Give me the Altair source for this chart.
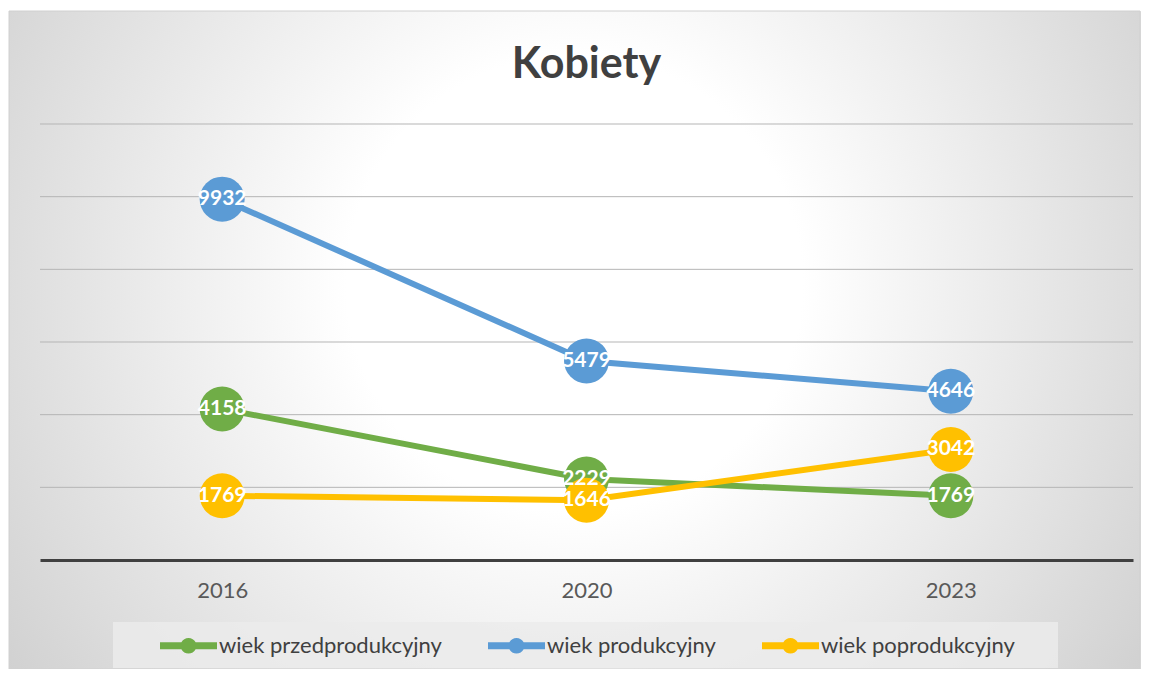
import altair as alt
import pandas as pd

years = ["2016", "2020", "2023"]
series_names = ["wiek przedprodukcyjny", "wiek produkcyjny", "wiek poprodukcyjny"]
przed = [4158, 2229, 1769]
prod = [9932, 5479, 4646]
popr = [1769, 1646, 3042]
colors = ["#70AD47", "#5B9BD5", "#FFC000"]
grid_values = [2000, 4000, 6000, 8000, 10000, 12000]

rows = []
for name, vals in zip(series_names, [przed, prod, popr]):
    for y, v in zip(years, vals):
        rows.append({"year": y, "series": name, "value": v})
df = pd.DataFrame(rows)
gdf = pd.DataFrame({"g": grid_values})

FONT = "Lato"
# the view is the whole chart frame; the plotting region is set by scale ranges
W, H = 1131, 658
PX0, PX1 = 31, 1124      # plotting region left/right
PY0, PY1 = 549, 113      # plotting region bottom/top

scale = alt.Scale(domain=series_names, range=colors)
xscale = alt.Scale(type="point", padding=0.5, range=[PX0, PX1])
xenc = alt.X("year:O", scale=xscale,
             axis=alt.Axis(title=None, labelAngle=0, labelFontSize=22, labelColor="#595959",
                           labelFont=FONT, labelPadding=20, ticks=False, grid=False,
                           domainColor="#404040", domainWidth=3, zindex=1,
                           offset=PY0 - H))
yscale = alt.Scale(domain=[0, 12000], nice=False, range=[PY0, PY1])
yenc = alt.Y("value:Q", scale=yscale, axis=None)

one = alt.Data(values=[{"k": 1}])

bg = alt.Chart(one).mark_rect(
    fill=alt.RadialGradient(
        gradient="radial", x1=0.5, y1=0.45, r1=0.0, x2=0.5, y2=0.45, r2=0.72,
        stops=[alt.GradientStop(color="#ffffff", offset=0.0),
               alt.GradientStop(color="#ffffff", offset=0.28),
               alt.GradientStop(color="#c4c4c4", offset=1.0)]),
    stroke="#d0d0d0", strokeWidth=1
).encode(x=alt.value(0), x2=alt.value(W), y=alt.value(0), y2=alt.value(H))

legbox = alt.Chart(one).mark_rect(fill="#ebebeb", opacity=0.85).encode(
    x=alt.value(104), x2=alt.value(1049), y=alt.value(611), y2=alt.value(657))

grid = alt.Chart(gdf).mark_rule(color="#b5b5b5", strokeWidth=1).encode(
    y=alt.Y("g:Q", scale=yscale, axis=None), x=alt.value(PX0), x2=alt.value(PX1))

line_layers = []
for name, col in zip(series_names, colors):
    line_layers.append(
        alt.Chart(df).transform_filter(alt.datum.series == name)
        .mark_line(strokeWidth=6, color=col)
        .encode(x=xenc, y=yenc, order=alt.Order("year:O")))

sym = ("M-1,-0.12 L-0.25,-0.12 A0.28,0.28 0 0,1 0.25,-0.12 L1,-0.12 L1,0.12 "
       "L0.25,0.12 A0.28,0.28 0 0,1 -0.25,0.12 L-1,0.12 Z")

points = alt.Chart(df).mark_circle(size=2025, opacity=1).encode(
    x=xenc, y=yenc,
    color=alt.Color("series:N", scale=scale, sort=series_names,
                    legend=alt.Legend(title=None, orient="none", direction="horizontal",
                                      legendX=151, legendY=606, padding=0, zindex=2,
                                      symbolType=sym, symbolSize=3249, symbolStrokeWidth=0,
                                      symbolOpacity=1,
                                      labelFont=FONT, labelFontSize=22, labelColor="#404040",
                                      labelOffset=2, columnPadding=46, labelLimit=400)))

labels = alt.Chart(df).mark_text(font=FONT, fontSize=21, fontWeight="bold", color="white",
                                 baseline="middle", align="center").encode(
    x=xenc, y=yenc, text=alt.Text("value:Q", format="d"))

chart = alt.layer(bg, legbox, grid, *line_layers, points, labels).properties(
    width=W, height=H,
    autosize=alt.AutoSizeParams(type="none"),
    padding={"left": 1, "top": 3, "right": 1, "bottom": 0},
    title=alt.TitleParams(text="Kobiety", fontSize=43, font=FONT, fontWeight="bold",
                          color="#404040", anchor="middle", offset=-76, dx=12, zindex=2),
).configure_view(stroke=None).configure(background="white")

chart.save("out.html", embed_options={"renderer": "svg", "actions": False})
